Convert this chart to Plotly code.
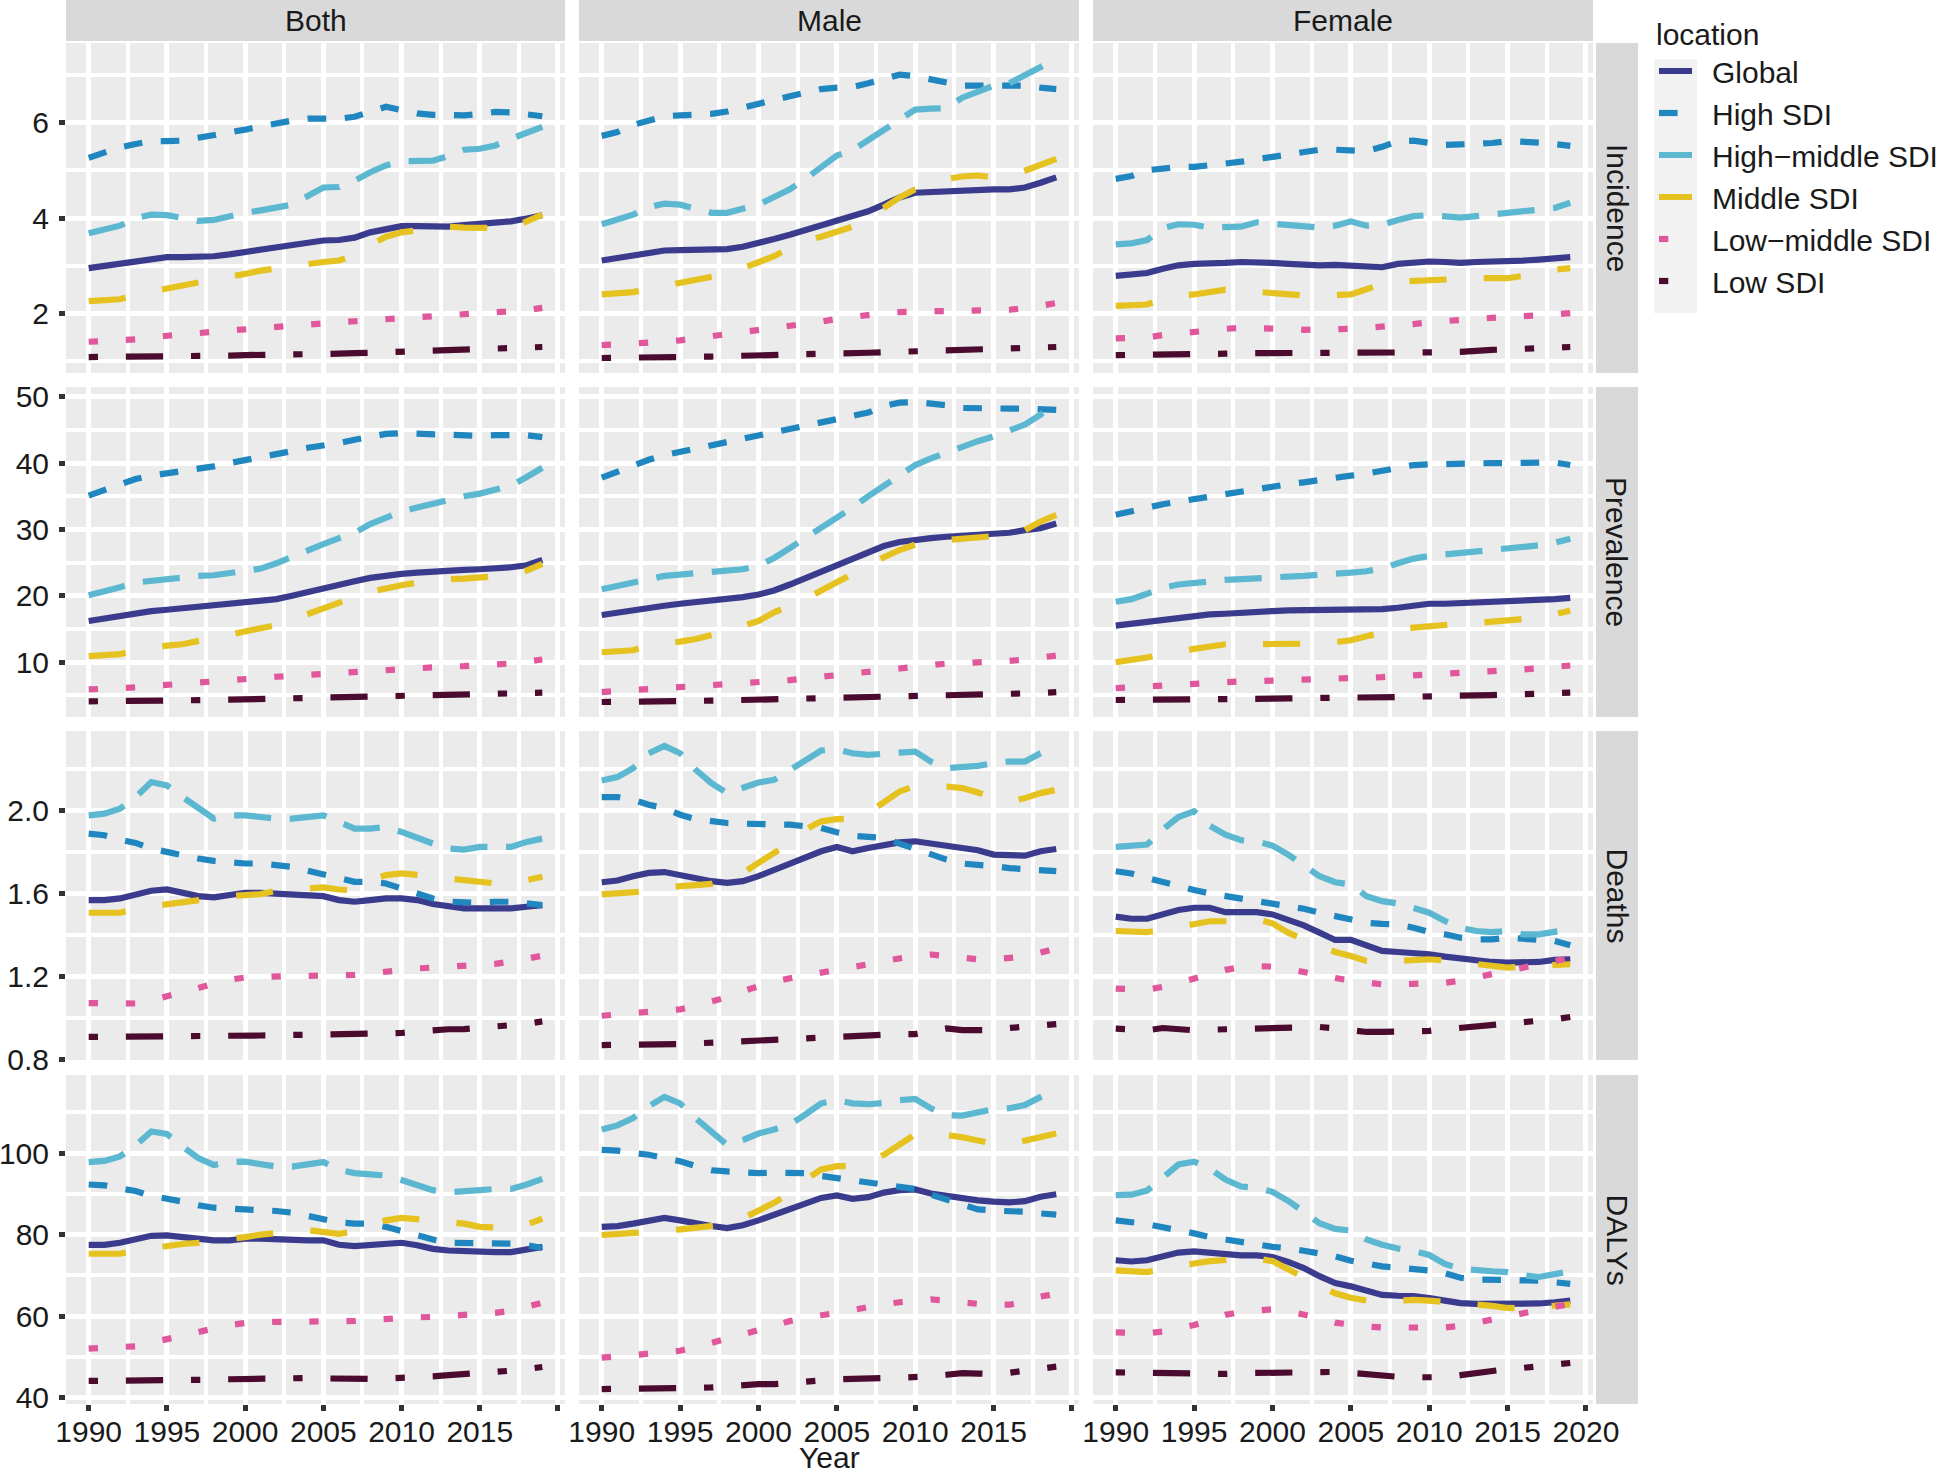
import plotly.graph_objects as go

# ---------------- data ----------------
years = list(range(1990, 2020))
locations = ["Global", "High SDI", "High\u2212middle SDI", "Middle SDI", "Low\u2212middle SDI", "Low SDI"]
sexes = ["Both", "Male", "Female"]
measures = ["Incidence", "Prevalence", "Deaths", "DALYs"]

year_ticks = [1990, 1995, 2000, 2005, 2010, 2015, 2020]
year_minor = [1992.5, 1997.5, 2002.5, 2007.5, 2012.5, 2017.5]
year_labels_full = ["1990", "1995", "2000", "2005", "2010", "2015", "2020"]
year_labels_cut = ["1990", "1995", "2000", "2005", "2010", "2015", ""]

incidence_ticks = [2, 4, 6]
incidence_minor = [1, 3, 5, 7]
prevalence_ticks = [10, 20, 30, 40, 50]
prevalence_minor = [5, 15, 25, 35, 45]
deaths_ticks = [0.8, 1.2, 1.6, 2.0]
deaths_minor = [1.0, 1.4, 1.8, 2.2]
dalys_ticks = [40, 60, 80, 100]
dalys_minor = [50, 70, 90, 110]

L = locations
incidence_both = {
    L[0]: [2.95, 3.0, 3.04, 3.1, 3.15, 3.18, 3.18, 3.18, 3.2, 3.24, 3.29, 3.33, 3.38, 3.42, 3.47, 3.53, 3.54, 3.59, 3.70, 3.78, 3.83, 3.83, 3.82, 3.82, 3.85, 3.87, 3.89, 3.93, 3.99, 4.06],
    L[1]: [5.26, 5.38, 5.48, 5.55, 5.61, 5.61, 5.62, 5.68, 5.73, 5.8, 5.85, 5.92, 5.99, 6.04, 6.08, 6.08, 6.08, 6.12, 6.23, 6.33, 6.26, 6.19, 6.16, 6.15, 6.15, 6.18, 6.22, 6.21, 6.18, 6.13],
    L[2]: [3.68, 3.75, 3.84, 4.0, 4.07, 4.06, 4.0, 3.94, 3.96, 4.04, 4.11, 4.16, 4.21, 4.28, 4.46, 4.64, 4.65, 4.78, 4.96, 5.1, 5.19, 5.18, 5.2, 5.3, 5.43, 5.45, 5.52, 5.66, 5.8, 5.91],
    L[3]: [2.26, 2.28, 2.3, 2.4, 2.47, 2.52, 2.58, 2.65, 2.71, 2.76, 2.83, 2.9, 2.95, 3.01, 3.06, 3.08, 3.11, 3.22, 3.43, 3.61, 3.7, 3.75, 3.8, 3.82, 3.8, 3.79, 3.79, 3.79, 3.93, 4.07],
    L[4]: [1.41, 1.42, 1.43, 1.46, 1.5, 1.55, 1.57, 1.59, 1.63, 1.65, 1.67, 1.7, 1.72, 1.75, 1.77, 1.8, 1.82, 1.84, 1.86, 1.89, 1.91, 1.92, 1.93, 1.95, 1.96, 1.98, 2.0, 2.03, 2.07, 2.12],
    L[5]: [1.09, 1.09, 1.09, 1.09, 1.1, 1.1, 1.1, 1.11, 1.12, 1.12, 1.13, 1.13, 1.14, 1.14, 1.15, 1.16, 1.16, 1.17, 1.18, 1.18, 1.19, 1.2, 1.21, 1.22, 1.22, 1.23, 1.25, 1.27, 1.28, 1.3],
}
incidence_male = {
    L[0]: [3.11, 3.16, 3.22, 3.28, 3.32, 3.33, 3.33, 3.33, 3.35, 3.4, 3.47, 3.56, 3.65, 3.75, 3.86, 3.96, 4.04, 4.14, 4.28, 4.43, 4.53, 4.55, 4.55, 4.57, 4.58, 4.6, 4.6, 4.64, 4.74, 4.85],
    L[1]: [5.72, 5.8, 5.95, 6.04, 6.13, 6.15, 6.15, 6.18, 6.23, 6.32, 6.38, 6.47, 6.55, 6.62, 6.7, 6.73, 6.74, 6.82, 6.92, 7.0, 6.97, 6.91, 6.82, 6.77, 6.77, 6.78, 6.79, 6.77, 6.73, 6.7],
    L[2]: [3.87, 3.96, 4.07, 4.23, 4.3, 4.28, 4.2, 4.11, 4.11, 4.18, 4.28, 4.44, 4.6, 4.82, 5.07, 5.31, 5.42, 5.63, 5.84, 6.06, 6.27, 6.29, 6.3, 6.52, 6.66, 6.77, 6.82, 6.98, 7.16, 7.35],
    L[3]: [2.4, 2.43, 2.45, 2.52, 2.58, 2.63, 2.69, 2.74, 2.83, 2.95, 3.06, 3.2, 3.38, 3.52, 3.61, 3.7, 3.82, 4.0, 4.21, 4.43, 4.6, 4.72, 4.82, 4.87, 4.89, 4.85, 4.89, 4.99, 5.13, 5.24],
    L[4]: [1.34, 1.35, 1.36, 1.38, 1.41, 1.44, 1.48, 1.52, 1.57, 1.61, 1.66, 1.7, 1.74, 1.79, 1.83, 1.89, 1.94, 1.98, 2.01, 2.03, 2.05, 2.05, 2.05, 2.05, 2.05, 2.06, 2.08, 2.11, 2.16, 2.22],
    L[5]: [1.07, 1.07, 1.08, 1.08, 1.09, 1.09, 1.1, 1.1, 1.11, 1.11, 1.12, 1.13, 1.14, 1.15, 1.15, 1.16, 1.17, 1.18, 1.19, 1.2, 1.21, 1.22, 1.22, 1.23, 1.24, 1.25, 1.26, 1.27, 1.28, 1.3],
}
incidence_female = {
    L[0]: [2.79, 2.82, 2.85, 2.94, 3.01, 3.04, 3.04, 3.06, 3.08, 3.08, 3.06, 3.04, 3.02, 3.01, 3.02, 3.01, 2.97, 2.97, 3.04, 3.08, 3.09, 3.08, 3.06, 3.08, 3.08, 3.09, 3.11, 3.13, 3.16, 3.18],
    L[1]: [4.82, 4.88, 5.0, 5.04, 5.07, 5.07, 5.09, 5.14, 5.18, 5.23, 5.28, 5.34, 5.4, 5.43, 5.43, 5.41, 5.4, 5.49, 5.61, 5.62, 5.57, 5.53, 5.54, 5.55, 5.57, 5.61, 5.61, 5.58, 5.55, 5.51],
    L[2]: [3.45, 3.47, 3.54, 3.79, 3.87, 3.86, 3.8, 3.8, 3.82, 3.91, 3.89, 3.86, 3.82, 3.8, 3.84, 3.93, 3.84, 3.86, 3.96, 4.04, 4.06, 4.04, 4.01, 4.04, 4.07, 4.11, 4.14, 4.16, 4.21, 4.32],
    L[3]: [2.16, 2.17, 2.19, 2.31, 2.38, 2.4, 2.44, 2.5, 2.48, 2.45, 2.44, 2.4, 2.38, 2.38, 2.38, 2.4, 2.51, 2.62, 2.67, 2.69, 2.69, 2.72, 2.74, 2.74, 2.74, 2.74, 2.79, 2.87, 2.92, 2.95],
    L[4]: [1.48, 1.49, 1.5, 1.55, 1.59, 1.63, 1.66, 1.68, 1.7, 1.7, 1.7, 1.68, 1.66, 1.66, 1.66, 1.68, 1.7, 1.72, 1.74, 1.78, 1.82, 1.85, 1.87, 1.89, 1.91, 1.93, 1.94, 1.96, 1.98, 2.01],
    L[5]: [1.13, 1.13, 1.14, 1.14, 1.15, 1.15, 1.16, 1.16, 1.17, 1.17, 1.18, 1.18, 1.17, 1.17, 1.16, 1.16, 1.16, 1.17, 1.17, 1.17, 1.18, 1.19, 1.2, 1.23, 1.24, 1.25, 1.26, 1.27, 1.28, 1.3],
}
prevalence_both = {
    L[0]: [16.2, 16.6, 17.0, 17.3, 17.7, 17.9, 18.1, 18.3, 18.5, 18.7, 18.9, 19.2, 19.5, 20.0, 20.6, 21.1, 21.6, 22.2, 22.7, 23.1, 23.3, 23.5, 23.7, 23.8, 23.9, 24.0, 24.1, 24.3, 24.6, 25.4],
    L[1]: [35.1, 35.9, 36.9, 37.6, 38.1, 38.4, 38.7, 39.2, 39.5, 40.0, 40.4, 40.9, 41.3, 41.8, 42.3, 42.6, 43.0, 43.5, 44.0, 44.4, 44.5, 44.4, 44.2, 44.1, 44.1, 44.1, 44.2, 44.2, 44.2, 43.9],
    L[2]: [20.1, 20.6, 21.3, 22.0, 22.3, 22.6, 22.7, 23.0, 23.1, 23.4, 23.6, 24.1, 24.9, 25.9, 27.0, 27.8, 28.7, 29.5, 30.8, 31.8, 32.7, 33.3, 33.9, 34.3, 35.0, 35.4, 35.9, 36.6, 37.9, 39.3],
    L[3]: [10.9, 11.1, 11.2, 11.8, 12.2, 12.5, 12.7, 13.2, 13.7, 14.1, 14.5, 15.0, 15.6, 16.4, 17.3, 18.0, 18.9, 19.8, 20.6, 21.2, 21.6, 22.0, 22.3, 22.5, 22.6, 22.7, 22.8, 23.1, 23.8, 24.8],
    L[4]: [5.9, 5.95, 6.0, 6.2, 6.4, 6.6, 6.8, 7.0, 7.2, 7.3, 7.4, 7.6, 7.8, 7.95, 8.1, 8.25, 8.4, 8.6, 8.8, 8.9, 9.0, 9.15, 9.3, 9.35, 9.4, 9.5, 9.6, 9.8, 10.1, 10.4],
    L[5]: [4.1, 4.1, 4.1, 4.15, 4.15, 4.2, 4.2, 4.25, 4.3, 4.35, 4.4, 4.4, 4.45, 4.5, 4.55, 4.6, 4.65, 4.7, 4.75, 4.8, 4.9, 4.95, 5.0, 5.05, 5.1, 5.1, 5.2, 5.3, 5.35, 5.4],
}
prevalence_male = {
    L[0]: [17.1, 17.5, 17.9, 18.3, 18.5, 18.8, 19.0, 19.3, 19.5, 19.8, 20.2, 20.8, 21.7, 22.7, 23.7, 24.6, 25.6, 26.6, 27.5, 28.1, 28.5, 28.7, 28.9, 29.0, 29.1, 29.2, 29.5, 29.9, 30.2, 30.9],
    L[1]: [37.8, 38.7, 39.8, 40.5, 41.2, 41.7, 42.2, 42.7, 43.2, 43.6, 44.0, 44.5, 45.0, 45.5, 46.1, 46.6, 47.1, 47.6, 48.6, 49.1, 49.2, 49.0, 48.7, 48.3, 48.2, 48.2, 48.2, 48.2, 48.2, 48.0],
    L[2]: [21.0, 21.5, 22.1, 22.6, 23.0, 23.2, 23.4, 23.5, 23.7, 24.0, 24.5, 25.7, 27.2, 28.7, 30.3, 31.8, 33.3, 35.0, 36.6, 38.2, 39.7, 40.7, 41.6, 42.5, 43.3, 44.0, 44.8, 45.8, 47.3, 49.2],
    L[3]: [11.5, 11.7, 11.8, 12.5, 12.7, 13.1, 13.5, 14.0, 14.7, 15.5, 16.2, 17.5, 18.5, 19.5, 20.8, 22.1, 23.4, 24.6, 25.8, 26.9, 27.7, 28.2, 28.4, 28.7, 28.8, 28.9, 29.2, 29.9, 31.2, 32.2],
    L[4]: [5.5, 5.65, 5.8, 5.9, 6.0, 6.15, 6.3, 6.4, 6.5, 6.65, 6.8, 7.05, 7.3, 7.55, 7.8, 8.1, 8.4, 8.7, 9.0, 9.25, 9.5, 9.65, 9.8, 9.85, 9.9, 10.05, 10.2, 10.4, 10.7, 11.0],
    L[5]: [4.0, 4.0, 4.0, 4.05, 4.05, 4.1, 4.15, 4.2, 4.25, 4.3, 4.3, 4.35, 4.4, 4.45, 4.5, 4.5, 4.6, 4.7, 4.8, 4.85, 4.9, 4.95, 4.95, 5.0, 5.0, 5.0, 5.1, 5.2, 5.35, 5.5],
}
prevalence_female = {
    L[0]: [15.5, 15.8, 16.1, 16.5, 16.8, 17.0, 17.2, 17.3, 17.5, 17.6, 17.7, 17.8, 17.8, 17.8, 17.8, 17.9, 17.9, 18.0, 18.2, 18.5, 18.8, 18.8, 18.9, 18.9, 18.9, 19.0, 19.1, 19.3, 19.5, 19.7],
    L[1]: [32.2, 32.8, 33.4, 33.8, 34.2, 34.6, 35.0, 35.4, 35.7, 36.1, 36.4, 36.8, 37.1, 37.5, 37.9, 38.1, 38.4, 38.8, 39.3, 39.7, 39.8, 39.9, 39.9, 39.9, 40.0, 40.0, 40.1, 40.2, 40.1, 39.7],
    L[2]: [19.1, 19.5, 20.3, 21.2, 21.7, 22.0, 22.2, 22.4, 22.5, 22.7, 22.8, 22.9, 23.0, 23.1, 23.3, 23.5, 23.7, 24.1, 24.9, 25.6, 26.0, 26.2, 26.4, 26.6, 26.9, 27.0, 27.2, 27.6, 28.0, 28.6],
    L[3]: [10.0, 10.3, 10.7, 11.3, 11.7, 11.9, 12.4, 12.7, 12.7, 12.7, 12.7, 12.7, 12.7, 12.8, 13.0, 13.3, 13.9, 14.5, 15.0, 15.2, 15.5, 15.6, 15.7, 16.0, 16.1, 16.3, 16.5, 16.7, 17.2, 17.8],
    L[4]: [6.1, 6.25, 6.4, 6.5, 6.6, 6.75, 6.9, 7.0, 7.1, 7.15, 7.2, 7.25, 7.3, 7.35, 7.4, 7.5, 7.6, 7.75, 7.9, 8.0, 8.1, 8.25, 8.4, 8.5, 8.6, 8.75, 8.9, 9.1, 9.3, 9.5],
    L[5]: [4.3, 4.3, 4.3, 4.3, 4.3, 4.3, 4.35, 4.4, 4.45, 4.5, 4.5, 4.55, 4.55, 4.6, 4.6, 4.6, 4.65, 4.7, 4.75, 4.8, 4.8, 4.85, 4.9, 5.0, 5.05, 5.1, 5.2, 5.3, 5.35, 5.4],
}
deaths_both = {
    L[0]: [1.568, 1.568, 1.576, 1.592, 1.613, 1.619, 1.600, 1.587, 1.581, 1.592, 1.603, 1.603, 1.600, 1.592, 1.587, 1.587, 1.568, 1.560, 1.568, 1.576, 1.576, 1.568, 1.549, 1.536, 1.528, 1.528, 1.528, 1.528, 1.536, 1.544],
    L[1]: [1.888, 1.880, 1.859, 1.843, 1.816, 1.800, 1.779, 1.768, 1.757, 1.747, 1.744, 1.744, 1.736, 1.728, 1.709, 1.693, 1.672, 1.656, 1.656, 1.648, 1.624, 1.600, 1.576, 1.560, 1.555, 1.555, 1.560, 1.560, 1.552, 1.544],
    L[2]: [1.976, 1.984, 2.008, 2.064, 2.136, 2.120, 2.064, 2.008, 1.960, 1.976, 1.976, 1.968, 1.960, 1.960, 1.968, 1.976, 1.944, 1.912, 1.912, 1.920, 1.896, 1.864, 1.840, 1.816, 1.811, 1.824, 1.827, 1.824, 1.848, 1.864],
    L[3]: [1.507, 1.507, 1.507, 1.528, 1.539, 1.549, 1.555, 1.568, 1.576, 1.587, 1.592, 1.597, 1.613, 1.619, 1.624, 1.629, 1.619, 1.616, 1.664, 1.688, 1.696, 1.693, 1.683, 1.672, 1.664, 1.651, 1.648, 1.648, 1.664, 1.680],
    L[4]: [1.072, 1.071, 1.070, 1.070, 1.085, 1.105, 1.125, 1.150, 1.170, 1.185, 1.195, 1.200, 1.203, 1.203, 1.203, 1.204, 1.206, 1.208, 1.215, 1.225, 1.233, 1.239, 1.243, 1.246, 1.249, 1.254, 1.261, 1.272, 1.286, 1.300],
    L[5]: [0.909, 0.909, 0.909, 0.909, 0.909, 0.909, 0.910, 0.911, 0.912, 0.914, 0.915, 0.916, 0.917, 0.918, 0.919, 0.920, 0.921, 0.922, 0.924, 0.926, 0.928, 0.935, 0.944, 0.946, 0.947, 0.952, 0.958, 0.963, 0.972, 0.984],
}
deaths_male = {
    L[0]: [1.654, 1.662, 1.683, 1.699, 1.703, 1.687, 1.671, 1.659, 1.651, 1.659, 1.683, 1.715, 1.747, 1.779, 1.803, 1.824, 1.803, 1.819, 1.835, 1.846, 1.851, 1.840, 1.827, 1.819, 1.808, 1.787, 1.782, 1.782, 1.803, 1.814],
    L[1]: [2.064, 2.064, 2.051, 2.027, 2.011, 1.979, 1.958, 1.947, 1.939, 1.936, 1.936, 1.936, 1.931, 1.923, 1.915, 1.894, 1.878, 1.872, 1.867, 1.840, 1.814, 1.792, 1.763, 1.744, 1.734, 1.731, 1.722, 1.715, 1.712, 1.707],
    L[2]: [2.144, 2.160, 2.203, 2.275, 2.310, 2.275, 2.195, 2.131, 2.083, 2.107, 2.134, 2.147, 2.195, 2.235, 2.288, 2.294, 2.275, 2.267, 2.275, 2.278, 2.283, 2.235, 2.203, 2.208, 2.214, 2.227, 2.235, 2.235, 2.275, 2.299],
    L[3]: [1.595, 1.600, 1.603, 1.611, 1.622, 1.635, 1.640, 1.646, 1.667, 1.699, 1.747, 1.795, 1.843, 1.907, 1.947, 1.958, 1.958, 1.987, 2.035, 2.091, 2.118, 2.123, 2.115, 2.107, 2.086, 2.059, 2.043, 2.059, 2.083, 2.099],
    L[4]: [1.011, 1.016, 1.022, 1.030, 1.036, 1.042, 1.060, 1.078, 1.100, 1.130, 1.155, 1.175, 1.192, 1.205, 1.216, 1.228, 1.243, 1.259, 1.275, 1.290, 1.299, 1.306, 1.300, 1.288, 1.283, 1.284, 1.286, 1.295, 1.315, 1.335],
    L[5]: [0.870, 0.870, 0.870, 0.871, 0.873, 0.875, 0.878, 0.882, 0.886, 0.889, 0.891, 0.893, 0.896, 0.901, 0.907, 0.912, 0.918, 0.921, 0.923, 0.923, 0.923, 0.935, 0.950, 0.942, 0.939, 0.942, 0.952, 0.960, 0.966, 0.971],
}
deaths_female = {
    L[0]: [1.488, 1.478, 1.478, 1.499, 1.520, 1.531, 1.531, 1.510, 1.510, 1.510, 1.499, 1.475, 1.446, 1.411, 1.376, 1.376, 1.347, 1.323, 1.318, 1.315, 1.307, 1.296, 1.286, 1.275, 1.270, 1.267, 1.267, 1.270, 1.280, 1.283],
    L[1]: [1.707, 1.696, 1.675, 1.654, 1.635, 1.616, 1.600, 1.587, 1.579, 1.568, 1.552, 1.539, 1.526, 1.507, 1.491, 1.475, 1.459, 1.453, 1.451, 1.435, 1.414, 1.403, 1.387, 1.379, 1.379, 1.387, 1.382, 1.376, 1.371, 1.350],
    L[2]: [1.824, 1.826, 1.835, 1.907, 1.968, 1.995, 1.926, 1.883, 1.856, 1.851, 1.830, 1.787, 1.731, 1.683, 1.654, 1.643, 1.587, 1.563, 1.552, 1.531, 1.507, 1.467, 1.435, 1.419, 1.414, 1.419, 1.403, 1.403, 1.414, 1.427],
    L[3]: [1.419, 1.419, 1.414, 1.424, 1.440, 1.451, 1.466, 1.467, 1.470, 1.475, 1.456, 1.411, 1.379, 1.347, 1.318, 1.299, 1.275, 1.270, 1.274, 1.283, 1.283, 1.277, 1.270, 1.264, 1.251, 1.243, 1.248, 1.254, 1.259, 1.259],
    L[4]: [1.142, 1.140, 1.137, 1.150, 1.168, 1.185, 1.210, 1.232, 1.245, 1.250, 1.248, 1.236, 1.220, 1.205, 1.193, 1.180, 1.168, 1.162, 1.162, 1.163, 1.166, 1.170, 1.180, 1.196, 1.210, 1.226, 1.241, 1.257, 1.275, 1.290],
    L[5]: [0.949, 0.945, 0.941, 0.952, 0.946, 0.941, 0.944, 0.946, 0.949, 0.949, 0.949, 0.952, 0.955, 0.957, 0.950, 0.941, 0.933, 0.933, 0.933, 0.933, 0.938, 0.946, 0.952, 0.962, 0.968, 0.975, 0.981, 0.984, 0.994, 1.005],
}
dalys_both = {
    L[0]: [77.5, 77.5, 78.0, 79.0, 79.7, 79.8, 79.4, 79.0, 78.6, 78.6, 79.0, 79.0, 78.8, 78.6, 78.6, 78.6, 77.5, 77.2, 77.5, 78.0, 78.0, 77.4, 76.5, 76.1, 75.9, 75.7, 75.7, 75.7, 76.4, 77.0],
    L[1]: [92.3, 92.1, 91.3, 90.7, 89.5, 88.9, 88.1, 87.2, 86.6, 86.4, 86.3, 86.0, 85.8, 85.4, 84.6, 84.0, 83.0, 82.7, 82.7, 81.9, 80.8, 79.8, 78.8, 78.0, 77.9, 78.0, 78.0, 77.8, 77.4, 76.7],
    L[2]: [97.8, 98.1, 99.2, 101.9, 105.3, 104.7, 101.6, 98.8, 97.1, 97.8, 97.9, 97.3, 96.7, 96.7, 97.3, 97.8, 95.9, 95.1, 94.8, 94.5, 93.4, 92.2, 90.9, 90.4, 90.5, 90.9, 91.2, 91.2, 92.3, 93.7],
    L[3]: [75.3, 75.3, 75.3, 76.1, 76.7, 77.2, 77.7, 78.0, 78.4, 79.0, 79.4, 80.0, 80.5, 80.8, 81.1, 80.7, 80.2, 80.8, 82.3, 83.5, 84.1, 83.9, 83.5, 83.1, 82.7, 81.9, 81.6, 81.6, 82.5, 83.9],
    L[4]: [52.0, 52.1, 52.2, 52.6, 53.5, 54.2, 55.2, 56.1, 57.0, 57.8, 58.3, 58.6, 58.6, 58.6, 58.6, 58.7, 58.8, 58.8, 59.1, 59.4, 59.6, 59.7, 59.8, 60.0, 60.1, 60.4, 60.8, 61.3, 62.2, 63.3],
    L[5]: [44.1, 44.1, 44.1, 44.1, 44.1, 44.1, 44.2, 44.3, 44.4, 44.5, 44.6, 44.6, 44.7, 44.8, 44.8, 44.7, 44.6, 44.6, 44.6, 44.7, 44.8, 44.9, 45.2, 45.5, 45.7, 45.9, 46.2, 46.6, 47.0, 47.5],
}
dalys_male = {
    L[0]: [81.9, 82.1, 82.7, 83.5, 84.1, 83.5, 82.7, 82.1, 81.6, 82.3, 83.5, 84.9, 86.3, 87.9, 89.0, 89.6, 88.8, 89.2, 90.3, 90.9, 91.1, 90.1, 89.5, 88.9, 88.4, 88.1, 87.9, 88.2, 89.3, 89.9],
    L[1]: [100.8, 100.6, 100.0, 99.6, 98.8, 98.0, 96.8, 95.8, 95.5, 95.2, 95.1, 95.2, 95.3, 95.1, 94.4, 93.9, 93.1, 92.6, 92.4, 91.8, 91.2, 89.8, 88.6, 87.2, 86.2, 85.9, 85.8, 85.6, 85.2, 84.9],
    L[2]: [105.8, 106.8, 108.6, 111.5, 113.8, 112.2, 108.5, 105.0, 102.0, 103.2, 104.8, 105.8, 107.0, 109.5, 112.2, 113.0, 112.2, 112.0, 112.3, 113.0, 113.3, 111.0, 109.3, 109.2, 110.0, 110.8, 111.0, 111.8, 113.8, 115.5],
    L[3]: [79.9, 80.1, 80.2, 80.5, 80.9, 81.3, 81.6, 81.9, 82.5, 84.0, 85.8, 87.8, 90.2, 93.5, 96.0, 96.8, 96.8, 97.8, 99.6, 102.2, 104.6, 105.0, 104.5, 103.9, 103.1, 102.3, 102.2, 103.0, 104.0, 104.8],
    L[4]: [49.8, 50.0, 50.4, 50.8, 51.2, 51.5, 52.4, 53.4, 54.5, 55.5, 56.5, 57.6, 58.8, 59.6, 60.2, 60.8, 61.6, 62.3, 62.9, 63.4, 63.8, 64.1, 63.8, 63.3, 63.0, 62.8, 62.8, 63.5, 64.8, 65.5],
    L[5]: [42.1, 42.1, 42.2, 42.2, 42.2, 42.3, 42.4, 42.5, 42.8, 43.1, 43.3, 43.3, 43.5, 43.9, 44.2, 44.5, 44.7, 44.8, 44.8, 44.9, 44.9, 45.2, 45.6, 46.0, 45.9, 45.8, 46.1, 46.6, 47.1, 47.6],
}
dalys_female = {
    L[0]: [73.7, 73.4, 73.7, 74.5, 75.6, 75.9, 75.6, 75.1, 74.9, 74.9, 74.5, 73.3, 71.8, 69.8, 68.1, 67.3, 66.3, 65.2, 65.0, 64.9, 64.4, 63.8, 63.2, 63.0, 63.0, 63.0, 63.0, 63.1, 63.4, 63.8],
    L[1]: [83.5, 83.1, 82.6, 81.8, 81.2, 80.3, 79.4, 78.8, 78.1, 77.5, 77.0, 76.7, 76.1, 75.5, 74.7, 73.6, 72.8, 72.2, 71.9, 71.7, 71.2, 70.5, 69.4, 69.0, 69.0, 69.0, 69.0, 68.7, 68.3, 67.9],
    L[2]: [89.7, 89.8, 90.8, 94.0, 97.2, 97.9, 96.2, 93.5, 91.8, 91.5, 90.5, 88.3, 85.5, 82.8, 81.4, 81.0, 78.8, 77.5, 76.6, 76.0, 75.0, 72.8, 71.6, 71.2, 71.0, 70.8, 70.0, 69.6, 70.2, 71.0],
    L[3]: [71.2, 71.0, 70.8, 71.5, 72.3, 72.9, 73.5, 73.9, 74.0, 74.1, 73.5, 71.5, 69.5, 67.5, 65.6, 64.5, 63.8, 63.6, 63.8, 64.0, 63.8, 63.5, 63.2, 63.0, 62.5, 62.0, 61.9, 62.2, 62.6, 62.9],
    L[4]: [56.0, 55.9, 55.8, 56.2, 57.0, 57.8, 59.0, 60.3, 61.0, 61.5, 61.7, 61.2, 60.4, 59.5, 58.4, 57.8, 57.4, 57.2, 57.2, 57.2, 57.2, 57.2, 57.6, 58.3, 59.1, 59.9, 60.7, 61.5, 62.3, 63.0],
    L[5]: [46.2, 46.1, 46.0, 45.9, 45.9, 45.9, 45.8, 45.8, 46.0, 46.1, 46.2, 46.2, 46.2, 46.3, 46.3, 46.1, 45.7, 45.3, 45.1, 45.0, 44.9, 45.0, 45.5, 46.1, 46.6, 47.0, 47.3, 47.6, 48.0, 48.5],
}

panel_data = {
    ("Incidence", "Both"): incidence_both, ("Incidence", "Male"): incidence_male, ("Incidence", "Female"): incidence_female,
    ("Prevalence", "Both"): prevalence_both, ("Prevalence", "Male"): prevalence_male, ("Prevalence", "Female"): prevalence_female,
    ("Deaths", "Both"): deaths_both, ("Deaths", "Male"): deaths_male, ("Deaths", "Female"): deaths_female,
    ("DALYs", "Both"): dalys_both, ("DALYs", "Male"): dalys_male, ("DALYs", "Female"): dalys_female,
}
row_ticks = {
    "Incidence": (incidence_ticks, incidence_minor, [str(v) for v in incidence_ticks]),
    "Prevalence": (prevalence_ticks, prevalence_minor, [str(v) for v in prevalence_ticks]),
    "Deaths": (deaths_ticks, deaths_minor, [f"{v:.1f}" for v in deaths_ticks]),
    "DALYs": (dalys_ticks, dalys_minor, [str(v) for v in dalys_ticks]),
}

# ---------------- styles ----------------
colors = {
    L[0]: "#3B3B8E", L[1]: "#1F86BF", L[2]: "#5CB8D1",
    L[3]: "#E5C21F", L[4]: "#E0579B", L[5]: "#4B0B2F",
}
U = 9.3
dashes = {
    L[0]: "solid",
    L[1]: f"{2*U}px,{2*U}px",
    L[2]: f"{4*U}px,{2*U}px",
    L[3]: f"{4*U}px,{4*U}px",
    L[4]: f"{1*U}px,{3*U}px",
    L[5]: f"{1*U}px,{3*U}px,{4*U}px,{3*U}px",
}
FONT = "Liberation Sans, Arial, Helvetica, sans-serif"
TXT = "#1A1A1A"
FS = 30
LW = 6.2
W, H = 1944, 1476
col_px = [(66, 565), (579, 1079), (1093, 1593)]
row_px = [(43, 373), (387, 717), (731, 1060), (1075, 1404)]
strip_top = (0, 41)
strip_right = (1596, 1638)

def px_x(v):
    return v / W

def px_y(v):
    return 1 - v / H

fig = go.Figure()
layout = {}
shapes = []
annotations = []

xmin, xmax = min(years), max(years)
xpad = 0.05 * (xmax - xmin)

for r, m in enumerate(measures):
    allv = [v for s in sexes for loc in locations for v in panel_data[(m, s)][loc]]
    lo, hi = min(allv), max(allv)
    pad = 0.05 * (hi - lo)
    yrange = [lo - pad, hi + pad]
    majors, minors, labels = row_ticks[m]
    y0, y1 = row_px[r]
    for c, s in enumerate(sexes):
        i = r * 3 + c + 1
        sfx = "" if i == 1 else str(i)
        x0, x1 = col_px[c]
        for loc in locations:
            fig.add_trace(go.Scatter(
                x=years, y=panel_data[(m, s)][loc], mode="lines",
                name="\u2002" + loc, legendgroup=loc, showlegend=(i == 1),
                line=dict(color=colors[loc], width=LW, dash=dashes[loc]),
                xaxis="x" + sfx, yaxis="y" + sfx, hoverinfo="skip",
            ))
        bottom = (r == len(measures) - 1)
        layout["xaxis" + sfx] = dict(
            domain=[px_x(x0), px_x(x1)], anchor="y" + sfx, automargin=False,
            range=[xmin - xpad, xmax + xpad],
            tickmode="array", tickvals=year_ticks,
            ticktext=(year_labels_full if c == 2 else year_labels_cut),
            showticklabels=bottom, ticks="outside" if bottom else "",
            ticklen=6, tickwidth=5, tickcolor="#333333", ticklabelstandoff=-5,
            tickfont=dict(family=FONT, size=FS, color=TXT),
            showgrid=True, gridcolor="white", gridwidth=5,
            minor=dict(tickvals=year_minor, showgrid=True, gridcolor="white", gridwidth=4, ticks=""),
            zeroline=False, showline=False, fixedrange=True,
        )
        layout["yaxis" + sfx] = dict(
            domain=[px_y(y1), px_y(y0)], anchor="x" + sfx, automargin=False,
            range=yrange, tickmode="array", tickvals=majors, ticktext=labels,
            showticklabels=(c == 0), ticks="outside" if c == 0 else "",
            ticklen=6, tickwidth=5, tickcolor="#333333", ticklabelstandoff=4,
            tickfont=dict(family=FONT, size=FS, color=TXT),
            showgrid=True, gridcolor="white", gridwidth=5,
            minor=dict(tickvals=minors, showgrid=True, gridcolor="white", gridwidth=4, ticks=""),
            zeroline=False, showline=False, fixedrange=True,
        )
        if r == 0:
            shapes.append(dict(type="rect", xref="paper", yref="paper",
                               x0=px_x(x0), x1=px_x(x1), y0=px_y(strip_top[1]), y1=px_y(strip_top[0]),
                               fillcolor="#D9D9D9", line=dict(width=0), layer="below"))
            annotations.append(dict(text=s, xref="paper", yref="paper",
                                    x=px_x((x0 + x1) / 2), y=px_y((strip_top[0] + strip_top[1]) / 2),
                                    xanchor="center", yanchor="middle", showarrow=False,
                                    font=dict(family=FONT, size=FS, color=TXT)))
    shapes.append(dict(type="rect", xref="paper", yref="paper",
                       x0=px_x(strip_right[0]), x1=px_x(strip_right[1]), y0=px_y(y1), y1=px_y(y0),
                       fillcolor="#D9D9D9", line=dict(width=0), layer="below"))
    annotations.append(dict(text=m, xref="paper", yref="paper", textangle=90,
                            x=px_x((strip_right[0] + strip_right[1]) / 2), y=px_y((y0 + y1) / 2),
                            xanchor="center", yanchor="middle", showarrow=False,
                            font=dict(family=FONT, size=FS, color=TXT)))

# axis title
annotations.append(dict(text="Year", xref="paper", yref="paper",
                        x=px_x((col_px[0][0] + col_px[2][1]) / 2), y=0,
                        xanchor="center", yanchor="bottom", showarrow=False,
                        font=dict(family=FONT, size=FS, color=TXT)))
# legend key background
shapes.append(dict(type="rect", xref="paper", yref="paper",
                   x0=px_x(1654), x1=px_x(1697), y0=px_y(313), y1=px_y(59),
                   fillcolor="#F2F2F2", line=dict(width=0), layer="below"))

layout.update(dict(
    template="none",
    width=W, height=H, autosize=False,
    margin=dict(l=0, r=0, t=0, b=0, pad=0, autoexpand=False),
    paper_bgcolor="white", plot_bgcolor="#EBEBEB",
    font=dict(family=FONT, size=FS, color=TXT),
    showlegend=True,
    legend=dict(x=px_x(1654), xanchor="left", y=px_y(6), yanchor="top",
                bgcolor="rgba(0,0,0,0)", borderwidth=0,
                font=dict(family=FONT, size=FS, color=TXT),
                title=dict(text="location", font=dict(family=FONT, size=FS, color=TXT)),
                tracegroupgap=6, itemwidth=33, traceorder="normal"),
    shapes=shapes, annotations=annotations,
    hovermode=False,
))
fig.update_layout(**layout)

fig.write_html("out.html", config={"displayModeBar": False},
               post_script="document.body.style.margin='0';document.body.style.overflow='hidden';")
